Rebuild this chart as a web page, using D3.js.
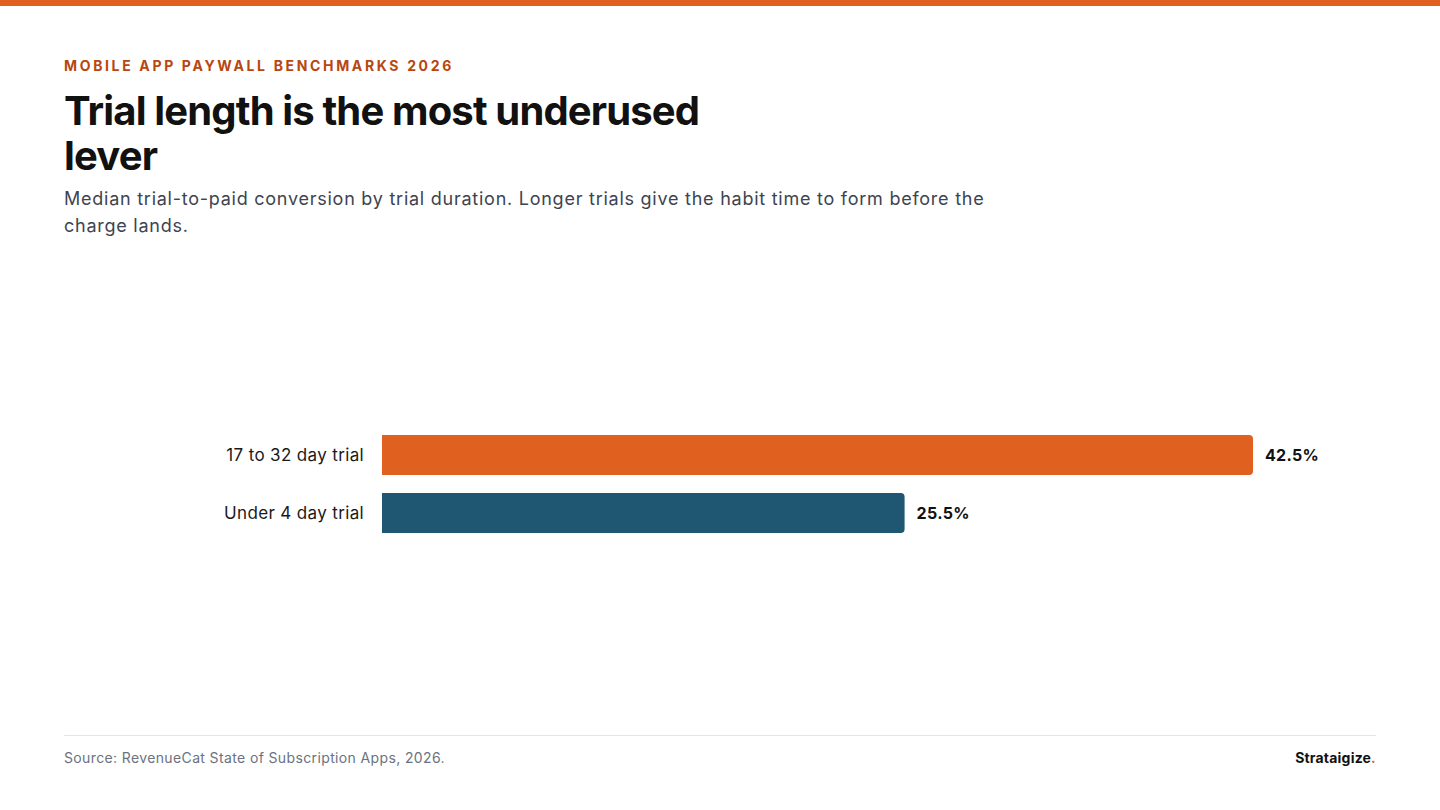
<!DOCTYPE html>
<html>
<head>
<meta charset="utf-8">
<script src="https://cdn.jsdelivr.net/npm/d3@7"></script>
<style>
  html, body { margin: 0; padding: 0; background: #fff; }
  svg { display: block; font-family: Inter, "Noto Sans", sans-serif; }
</style>
</head>
<body>
<div id="chart"></div>
<script>
// data
var categories = ["17 to 32 day trial", "Under 4 day trial"];
var values = [42.5, 25.5];
var barColors = ["#E0601F", "#1F5773"];

var W = 1440, H = 810;

var svg = d3.select("#chart").append("svg")
    .attr("width", W)
    .attr("height", H);

// top stripe
svg.append("rect")
    .attr("x", 0).attr("y", 0)
    .attr("width", W).attr("height", 6)
    .attr("fill", "#E0601F");

// header
svg.append("text")
    .attr("x", 64).attr("y", 71)
    .attr("fill", "#B8460F")
    .attr("font-size", 14)
    .attr("font-weight", 700)
    .attr("letter-spacing", 2.65)
    .text("MOBILE APP PAYWALL BENCHMARKS 2026");

var title = svg.append("text")
    .attr("x", 64).attr("y", 125)
    .attr("fill", "#111")
    .attr("font-size", 40)
    .attr("font-weight", 700)
    .attr("letter-spacing", -0.85);
title.append("tspan").attr("x", 64).text("Trial length is the most underused");
title.append("tspan").attr("x", 64).attr("dy", 45).text("lever");

var sub = svg.append("text")
    .attr("x", 64).attr("y", 205)
    .attr("fill", "#3d4450")
    .attr("font-size", 18)
    .attr("letter-spacing", 0.75);
sub.append("tspan").attr("x", 64)
    .text("Median trial-to-paid conversion by trial duration. Longer trials give the habit time to form before the");
sub.append("tspan").attr("x", 64).attr("dy", 27).text("charge lands.");

// scales
var x = d3.scaleLinear()
    .domain([0, d3.max(values)])
    .range([382, 1253]);

var y = d3.scaleBand()
    .domain(categories)
    .range([435, 533])
    .paddingInner(18 / 58)
    .paddingOuter(0);

var rows = categories.map(function (c, i) {
    return { name: c, value: values[i], color: barColors[i] };
});

var g = svg.append("g");

g.selectAll("path.bar")
    .data(rows)
    .enter()
    .append("path")
    .attr("class", "bar")
    .attr("fill", function (d) { return d.color; })
    .attr("d", function (d) {
        var x0 = x(0), x1 = x(d.value), y0 = y(d.name), h = y.bandwidth(), r = 4;
        return "M" + x0 + "," + y0 +
            "H" + (x1 - r) +
            "Q" + x1 + "," + y0 + " " + x1 + "," + (y0 + r) +
            "V" + (y0 + h - r) +
            "Q" + x1 + "," + (y0 + h) + " " + (x1 - r) + "," + (y0 + h) +
            "H" + x0 + "Z";
    });

g.selectAll("text.cat")
    .data(rows)
    .enter()
    .append("text")
    .attr("class", "cat")
    .attr("x", x(0) - 18)
    .attr("y", function (d) { return y(d.name) + y.bandwidth() / 2; })
    .attr("dy", "0.35em")
    .attr("text-anchor", "end")
    .attr("fill", "#1a1a1a")
    .attr("font-size", 17)
    .attr("letter-spacing", 0.35)
    .text(function (d) { return d.name; });

g.selectAll("text.val")
    .data(rows)
    .enter()
    .append("text")
    .attr("class", "val")
    .attr("x", function (d) { return x(d.value) + 12; })
    .attr("y", function (d) { return y(d.name) + y.bandwidth() / 2; })
    .attr("dy", "0.35em")
    .attr("fill", "#111")
    .attr("font-size", 16)
    .attr("font-weight", 700)
    .attr("letter-spacing", 0.3)
    .text(function (d) { return d.value.toFixed(1) + "%"; });

// footer
svg.append("line")
    .attr("x1", 64).attr("x2", 1376)
    .attr("y1", 735.5).attr("y2", 735.5)
    .attr("stroke", "#e5e5e5");

svg.append("text")
    .attr("x", 64).attr("y", 763)
    .attr("fill", "#6b7280")
    .attr("font-size", 14)
    .attr("letter-spacing", 0.37)
    .text("Source: RevenueCat State of Subscription Apps, 2026.");

var logo = svg.append("text")
    .attr("x", 1376).attr("y", 763)
    .attr("text-anchor", "end")
    .attr("fill", "#111")
    .attr("font-size", 14)
    .attr("font-weight", 700)
    .attr("letter-spacing", 0.2);
logo.append("tspan").text("Strataigize");
logo.append("tspan").attr("fill", "#E0601F").text(".");
</script>
</body>
</html>
